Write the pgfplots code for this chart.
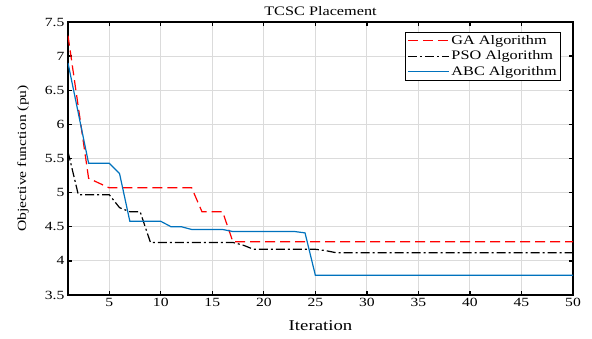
\documentclass[border=0pt]{standalone}
\usepackage{fontspec}
\setmainfont[FakeStretch=1.25]{Liberation Serif}
\usepackage{pgfplots}
\pgfplotsset{compat=1.18}
\definecolor{mblue}{rgb}{0,0.447,0.741}
\begin{document}
\begin{tikzpicture}
\begin{axis}[
  scale only axis,
  width=505pt, height=273pt,
  xmin=1, xmax=50, ymin=3.5, ymax=7.5,
  xtick={5,10,...,50},
  ytick={3.5,4,...,7.5},
  yticklabels={3.5,4,4.5,5,5.5,6,6.5,7,7.5},
  /pgf/number format/assume math mode=true,
  tick label style={font=\fontsize{12.5}{12.5}\selectfont},
  xlabel={Iteration},
  ylabel={Objective function (pu)},
  xlabel style={font=\fontsize{15}{15}\selectfont, at={([yshift=-31pt]axis description cs:0.5,0)}, anchor=center},
  ylabel style={font=\fontsize{12.5}{12.5}\selectfont, at={([xshift=-45pt]axis description cs:0,0.5)}, anchor=center},
  title={TCSC Placement},
  title style={font=\fontsize{13}{13}\selectfont, at={([yshift=5pt]axis description cs:0.5,1)}, anchor=center},
  grid=major,
  major grid style={draw=gray!28, line width=1pt},
  axis line style={line width=1.6pt},
  tick style={line width=1.3pt, black},
  major tick length=4pt,
  tick align=inside,
  xtick pos=both, ytick pos=both,
  legend style={at={([xshift=-12pt,yshift=-10pt]axis description cs:1,1)}, anchor=north east, draw=black, line width=0.7pt,
    font=\fontsize{13}{13}\selectfont, inner xsep=2pt, inner ysep=1pt, row sep=1pt},
  legend cell align=left,
  legend image code/.code={\draw[#1] (0pt,0pt) -- (41pt,0pt);},
]
\addplot[red, dash pattern=on 10pt off 5pt, line width=1.2pt] coordinates {
(1,7.30) (3,5.21) (5,5.07) (13,5.07) (14,4.72) (16,4.72) (17,4.28) (50,4.28)};
\addlegendentry{GA Algorithm}
\addplot[black, dash pattern=on 9pt off 3pt on 2pt off 3pt, line width=1.2pt] coordinates {
(1,5.60) (2,4.97) (5,4.97) (6,4.78) (7,4.72) (8,4.72) (9,4.27) (17,4.27) (18,4.23) (19,4.17) (25,4.17) (26,4.15) (27,4.12) (50,4.12)};
\addlegendentry{PSO Algorithm}
\addplot[mblue, line width=1.2pt] coordinates {
(1,6.90) (3,5.43) (5,5.43) (6,5.28) (7,4.58) (10,4.58) (11,4.50) (12,4.50) (13,4.46) (16,4.46) (17,4.43) (23,4.43) (24,4.41) (25,3.79) (50,3.79)};
\addlegendentry{ABC Algorithm}
\end{axis}
\path[use as bounding box] (-68pt,-43pt) rectangle (524pt,295pt);
\end{tikzpicture}
\end{document}
